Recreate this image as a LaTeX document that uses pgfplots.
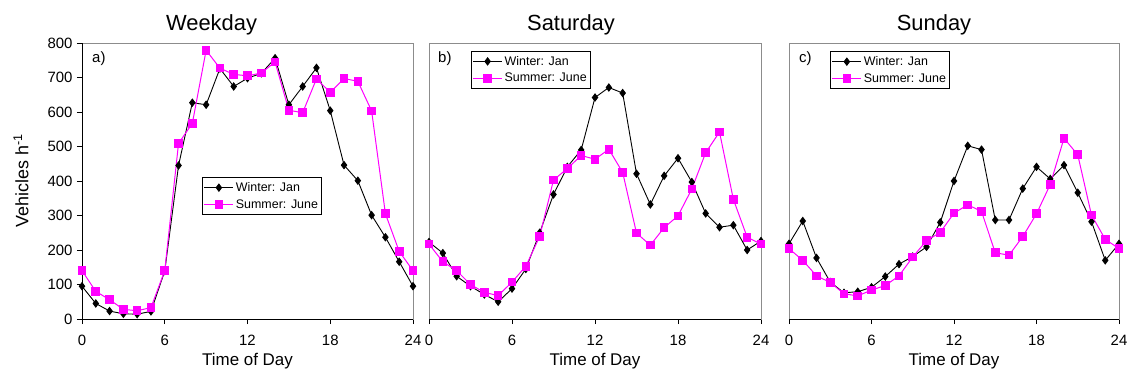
\documentclass[border=0pt]{standalone}
\usepackage{fontspec}
\setmainfont{Liberation Sans}
\usepackage{pgfplots}
\pgfplotsset{compat=1.18}
\usepackage{pgfplotstable}

\pgfplotstableread{
h wdw wds saw sas suw sus
0 95 140 223 217 218 204
1 45 80 191 166 284 170
2 23 56 124 140 177 125
3 15 28 95 100 107 106
4 14 24 71 77 76 73
5 22 33 50 68 79 67
6 139 140 88 107 92 84
7 445 509 145 153 123 97
8 627 567 250 239 159 125
9 621 779 361 403 181 180
10 726 727 441 436 209 227
11 674 709 490 474 280 251
12 698 705 642 463 400 307
13 712 713 671 492 502 331
14 756 745 655 425 491 312
15 621 605 421 249 287 192
16 674 598 332 214 287 185
17 728 696 415 265 378 239
18 604 657 466 299 441 305
19 446 697 397 377 406 390
20 401 689 306 482 446 524
21 301 603 266 542 366 476
22 237 305 272 347 282 301
23 166 196 200 237 170 231
24 95 140 226 217 218 204
}\traffic

\definecolor{mag}{RGB}{255,0,255}
\definecolor{framegray}{RGB}{140,140,140}

\pgfplotsset{
 panel/.style={
  scale only axis, height=276bp,
  xmin=0, xmax=24, ymin=0, ymax=800,
  xtick={0,6,12,18,24},
  ytick={0,100,...,800},
  tick align=outside, major tick length=5bp,
  xtick pos=bottom, ytick pos=left,
  axis line style={framegray, line width=0.9bp},
  every tick/.style={black, line width=0.8bp},
  tick label style={font=\fontsize{15}{18}\selectfont},
  xticklabel style={yshift=-8bp},
  yticklabel style={xshift=-1bp},
  /pgf/number format/assume math mode=true,
  clip=false,
  legend cell align=left,
  legend style={draw=black, line width=0.8bp, font=\fontsize{12.5}{14}\selectfont,
    inner xsep=1.5bp, inner ysep=3bp, row sep=2.5bp, nodes={inner sep=2bp}},
  legend image code/.code={\draw[mark repeat=2, mark phase=2, #1] plot coordinates {(0bp,0bp) (14.5bp,0bp) (29bp,0bp)};},
 },
 winter/.style={black, line width=0.9bp, mark=diamond*, mark size=3.6bp, mark options={fill=black, solid}},
 summer/.style={mag, line width=1bp, mark=square*, mark size=3.8bp, mark options={fill=mag, solid}},
}

\begin{document}
\begin{tikzpicture}
\useasboundingbox (0bp,0bp) rectangle (1130bp,378bp);

% Panel a: Weekday
\begin{axis}[panel, width=331bp, at={(82bp,59bp)}, anchor=south west,
  legend style={at={(0.3625,0.5145)}, anchor=north west}]
\addplot[winter] table[x=h, y=wdw] {\traffic};
\addplot[summer] table[x=h, y=wds] {\traffic};
\legend{Winter: Jan, Summer: June}
\draw[black, line width=0.9bp] (rel axis cs:0,1) -- (rel axis cs:0,0) -- (rel axis cs:1,0);
\end{axis}

% Panel b: Saturday
\begin{axis}[panel, width=332bp, at={(429bp,59bp)}, anchor=south west, ytick=\empty,
  legend style={at={(0.1256,0.972)}, anchor=north west}]
\addplot[winter] table[x=h, y=saw] {\traffic};
\addplot[summer] table[x=h, y=sas] {\traffic};
\legend{Winter: Jan, Summer: June}
\draw[black, line width=0.9bp] (rel axis cs:0,0) -- (rel axis cs:1,0);
\end{axis}

% Panel c: Sunday
\begin{axis}[panel, width=330bp, at={(789bp,59bp)}, anchor=south west, ytick=\empty,
  legend style={at={(0.124,0.971)}, anchor=north west}]
\addplot[winter] table[x=h, y=suw] {\traffic};
\addplot[summer] table[x=h, y=sus] {\traffic};
\legend{Winter: Jan, Summer: June}
\draw[black, line width=0.9bp] (rel axis cs:0,0) -- (rel axis cs:1,0);
\end{axis}

% Titles
\node[anchor=base, font=\fontsize{22}{26}\selectfont, inner sep=0pt] at (211.5bp,347.3bp) {Weekday};
\node[anchor=base, font=\fontsize{22}{26}\selectfont, inner sep=0pt] at (571bp,347.3bp) {Saturday};
\node[anchor=base, font=\fontsize{22}{26}\selectfont, inner sep=0pt] at (934bp,347.3bp) {Sunday};

% Panel letters
\node[anchor=base west, font=\fontsize{15}{18}\selectfont, inner sep=0pt] at (92bp,315bp) {a)};
\node[anchor=base west, font=\fontsize{15}{18}\selectfont, inner sep=0pt] at (438bp,315bp) {b)};
\node[anchor=base west, font=\fontsize{15}{18}\selectfont, inner sep=0pt] at (799bp,315bp) {c)};

% Axis titles
\node[anchor=base, font=\fontsize{17}{20}\selectfont, inner sep=0pt] at (247.5bp,13bp) {Time of Day};
\node[anchor=base, font=\fontsize{17}{20}\selectfont, inner sep=0pt] at (595bp,13bp) {Time of Day};
\node[anchor=base, font=\fontsize{17}{20}\selectfont, inner sep=0pt] at (954bp,13bp) {Time of Day};
\node[rotate=90, font=\fontsize{18}{21}\selectfont, inner sep=0pt] at (21bp,197bp) {Vehicles h\textsuperscript{-1}};
\end{tikzpicture}
\end{document}
